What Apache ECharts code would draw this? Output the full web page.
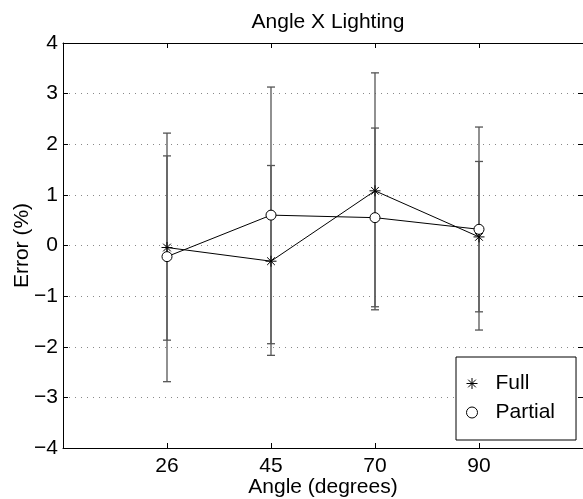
<!DOCTYPE html>
<html>
<head>
<meta charset="utf-8">
<script src="https://cdn.jsdelivr.net/npm/echarts@6/dist/echarts.min.js"></script>
<style>html,body{margin:0;padding:0;background:#fff;}#c{width:583px;height:499px;}</style>
</head>
<body>
<div id="c"></div>
<script>
const xPos = [1, 2, 3, 4];
const angleLabels = ['26', '45', '70', '90'];

const fullMean = [-0.04, -0.31, 1.08, 0.17];
const fullLow = [-1.87, -2.17, -1.27, -1.31];
const fullHigh = [1.77, 1.58, 3.41, 1.66];

const partialMean = [-0.22, 0.60, 0.55, 0.32];
const partialLow = [-2.69, -1.94, -1.21, -1.67];
const partialHigh = [2.22, 3.13, 2.32, 2.34];

const FONT = 'Liberation Sans, Arial, Helvetica, sans-serif';
const asterisk = 'path://M0,5L10,5M5,0L5,10M1.5,1.5L8.5,8.5M1.5,8.5L8.5,1.5';

function errSeries(name, lo, hi) {
  return {
    name: name + ' err',
    type: 'custom',
    z: 1,
    silent: true,
    data: xPos.map((x, i) => [x, lo[i], hi[i]]),
    encode: { x: 0, y: [1, 2] },
    renderItem: function (params, api) {
      const x = api.value(0);
      const a = api.coord([x, api.value(1)]);
      const b = api.coord([x, api.value(2)]);
      const hw = 4;
      const st = { stroke: '#555', lineWidth: 1.3 };
      return {
        type: 'group',
        children: [
          { type: 'line', shape: { x1: a[0], y1: a[1], x2: b[0], y2: b[1] }, style: st },
          { type: 'line', shape: { x1: a[0] - hw, y1: a[1], x2: a[0] + hw, y2: a[1] }, style: st },
          { type: 'line', shape: { x1: b[0] - hw, y1: b[1], x2: b[0] + hw, y2: b[1] }, style: st }
        ]
      };
    }
  };
}

const minus = v => String(v).replace('-', '\u2212');

const chart = echarts.init(document.getElementById('c'), null, { renderer: 'canvas' });
chart.setOption({
  animation: false,
  backgroundColor: '#fff',
  title: {
    text: 'Angle X Lighting',
    left: 323, top: 7, textAlign: 'center',
    textStyle: { fontFamily: FONT, fontSize: 21, fontWeight: 'normal', color: '#000' }
  },
  grid: { left: 63, right: 0, top: 43, bottom: 51, containLabel: false, outerBoundsMode: 'none' },
  legend: {
    orient: 'vertical',
    left: 456, top: 357,
    padding: [16, 21, 17, 8],
    itemGap: 8,
    itemWidth: 11, itemHeight: 11,
    backgroundColor: '#fff',
    borderColor: '#000', borderWidth: 1,
    textStyle: { fontFamily: FONT, fontSize: 21, color: '#000', padding: [0, 0, 0, 13] },
    data: [
      { name: 'Full', icon: asterisk, itemStyle: { color: 'none', borderColor: '#000', borderWidth: 1 } },
      { name: 'Partial', icon: 'circle', itemStyle: { color: '#fff', borderColor: '#000', borderWidth: 1 } }
    ]
  },
  xAxis: [{
    type: 'value', min: 0, max: 5, interval: 1,
    position: 'bottom',
    name: 'Angle (degrees)', nameLocation: 'middle', nameGap: 29, nameMoveOverlap: false,
    nameTextStyle: { fontFamily: FONT, fontSize: 21, color: '#000' },
    axisLine: { onZero: false, lineStyle: { color: '#000', width: 1 } },
    axisTick: { inside: true, length: 5, customValues: xPos, lineStyle: { color: '#000' } },
    axisLabel: {
      customValues: xPos, margin: 8,
      fontFamily: FONT, fontSize: 21, color: '#000',
      formatter: v => angleLabels[xPos.indexOf(v)] || ''
    },
    splitLine: { show: false }
  }, {
    type: 'value', min: 0, max: 5, interval: 1,
    position: 'top',
    axisLine: { onZero: false, lineStyle: { color: '#000', width: 1 } },
    axisTick: { inside: true, length: 5, customValues: xPos, lineStyle: { color: '#000' } },
    axisLabel: { show: false },
    splitLine: { show: false }
  }],
  yAxis: [{
    type: 'value', min: -4, max: 4, interval: 1,
    position: 'left',
    name: 'Error (%)', nameLocation: 'middle', nameGap: 30, nameMoveOverlap: false,
    nameTextStyle: { fontFamily: FONT, fontSize: 21, color: '#000' },
    axisLine: { show: true, onZero: false, lineStyle: { color: '#000', width: 1 } },
    axisTick: { show: true, inside: true, length: 5, lineStyle: { color: '#000' } },
    axisLabel: { fontFamily: FONT, fontSize: 21, color: '#000', margin: 5, formatter: minus },
    splitLine: { show: true, lineStyle: { color: '#888', type: [1, 5], width: 1 } }
  }, {
    type: 'value', min: -4, max: 4, interval: 1,
    position: 'right',
    axisLine: { show: true, onZero: false, lineStyle: { color: '#000', width: 1 } },
    axisTick: { show: true, inside: true, length: 5, lineStyle: { color: '#000' } },
    axisLabel: { show: false },
    splitLine: { show: false }
  }],
  series: [
    errSeries('Full', fullLow, fullHigh),
    errSeries('Partial', partialLow, partialHigh),
    {
      name: 'Full', type: 'line', z: 3,
      data: xPos.map((x, i) => [x, fullMean[i]]),
      symbol: asterisk, symbolSize: 11,
      lineStyle: { color: '#000', width: 1 },
      itemStyle: { color: 'none', borderColor: '#000', borderWidth: 1 }
    },
    {
      name: 'Partial', type: 'line', z: 3,
      data: xPos.map((x, i) => [x, partialMean[i]]),
      symbol: 'circle', symbolSize: 10,
      lineStyle: { color: '#000', width: 1 },
      itemStyle: { color: '#fff', borderColor: '#000', borderWidth: 1 }
    }
  ]
});
</script>
</body>
</html>
